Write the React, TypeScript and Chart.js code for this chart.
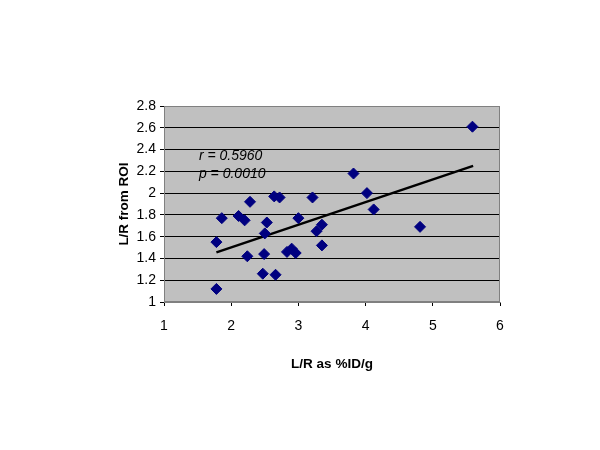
import React, { useEffect, useRef } from "react";
import { Chart, registerables } from "chart.js";

Chart.register(...registerables);

const xValues = [1.78, 1.78, 1.86, 2.11, 2.2, 2.28, 2.24, 2.47, 2.49, 2.53, 2.5, 2.64, 2.72, 2.66, 2.83, 2.9, 2.96, 3.0, 3.21, 3.27, 3.35, 3.35, 3.82, 4.02, 4.12, 4.81, 5.59];
const yValues = [1.12, 1.55, 1.77, 1.79, 1.75, 1.92, 1.42, 1.26, 1.44, 1.73, 1.63, 1.97, 1.96, 1.25, 1.46, 1.49, 1.45, 1.77, 1.96, 1.65, 1.71, 1.52, 2.18, 2.0, 1.85, 1.69, 2.61];
const trendX = [1.78, 5.6];
const trendY = [1.456, 2.25];
const annotations = ["r = 0.5960", "p = 0.0010"];
const xTitle = "L/R as %ID/g";
const yTitle = "L/R from ROI";

const plotBg = {
  id: "plotBg",
  beforeDraw(chart: any) {
    const { ctx, chartArea } = chart;
    ctx.save();
    ctx.fillStyle = "#ffffff";
    ctx.fillRect(0, 0, chart.width, chart.height);
    ctx.fillStyle = "#c0c0c0";
    ctx.fillRect(chartArea.left, chartArea.top, chartArea.right - chartArea.left, chartArea.bottom - chartArea.top);
    ctx.restore();
  },
  afterDraw(chart: any) {
    const { ctx, chartArea, scales } = chart;
    ctx.save();
    ctx.strokeStyle = "#808080";
    ctx.lineWidth = 1;
    ctx.strokeRect(chartArea.left + 0.5, chartArea.top + 0.5, chartArea.right - chartArea.left - 1, chartArea.bottom - chartArea.top - 1);
    ctx.fillStyle = "#000000";
    ctx.font = "italic 14px Arial, 'Liberation Sans', sans-serif";
    ctx.textBaseline = "middle";
    ctx.textAlign = "left";
    const x0 = scales.x.getPixelForValue(1.52);
    ctx.fillText(annotations[0], x0, scales.y.getPixelForValue(2.343));
    ctx.fillText(annotations[1], x0, scales.y.getPixelForValue(2.175));
    ctx.restore();
  },
};

const tickFont = { family: "Arial, 'Liberation Sans', sans-serif", size: 14 };
const titleFont = { family: "Arial, 'Liberation Sans', sans-serif", size: 13.5, weight: "bold" as const };

export default function App() {
  const ref = useRef<HTMLCanvasElement>(null);
  useEffect(() => {
    if (!ref.current) return;
    const chart = new Chart(ref.current, {
      type: "scatter",
      data: {
        datasets: [
          {
            type: "line",
            data: trendX.map((x, i) => ({ x, y: trendY[i] })),
            borderColor: "#000000",
            borderWidth: 2.5,
            pointRadius: 0,
            fill: false,
            order: 1,
          } as any,
          {
            data: xValues.map((x, i) => ({ x, y: yValues[i] })),
            backgroundColor: "#000080",
            borderColor: "#000080",
            pointStyle: "rectRot",
            pointRadius: 5.5,
            order: 0,
          },
        ],
      },
      options: {
        responsive: false,
        animation: false,
        layout: { padding: { left: 100, right: 100, top: 106, bottom: 73 } },
        plugins: { legend: { display: false }, tooltip: { enabled: false } },
        scales: {
          x: {
            type: "linear",
            min: 1,
            max: 6,
            ticks: { stepSize: 1, color: "#000", font: tickFont, padding: 12 },
            grid: { drawOnChartArea: false, drawTicks: true, tickLength: 4, color: "#000" },
            border: { display: true, color: "#808080" },
            title: { display: true, text: xTitle, color: "#000", font: titleFont, padding: { top: 10, bottom: 5 } },
            afterFit(scale: any) { scale.height = 75; },
          },
          y: {
            type: "linear",
            min: 1,
            max: 2.8,
            ticks: {
              stepSize: 0.2,
              color: "#000",
              font: tickFont,
              padding: 4,
              callback: (v: any) => Number(Number(v).toFixed(1)).toString(),
            },
            grid: { drawOnChartArea: true, drawTicks: true, tickLength: 4, color: "#000" },
            border: { display: true, color: "#808080" },
            title: { display: true, text: yTitle, color: "#000", font: titleFont, padding: { top: 16 } },
            afterFit(scale: any) { scale.width = 64; },
          },
        },
      },
      plugins: [plotBg],
    });
    return () => chart.destroy();
  }, []);
  return (
    <div style={{ position: "absolute", left: 0, top: 0, width: 600, height: 450 }}>
      <canvas ref={ref} width={600} height={450} />
    </div>
  );
}
